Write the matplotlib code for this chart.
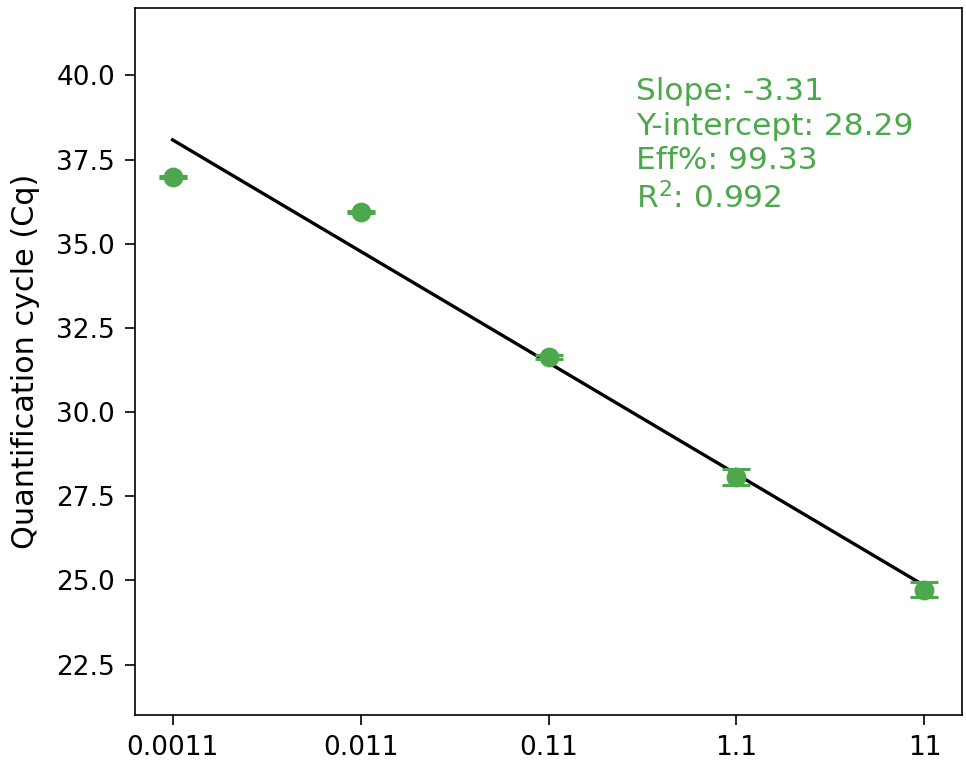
import matplotlib
matplotlib.use("Agg")
import matplotlib.pyplot as plt
import numpy as np

# standard curve data
conc = [0.0011, 0.011, 0.11, 1.1, 11]
tick_labels = ["0.0011", "0.011", "0.11", "1.1", "11"]
cq_mean = [36.97, 35.95, 31.63, 28.07, 24.72]
cq_err = [0.03, 0.03, 0.05, 0.24, 0.22]

slope = -3.31
intercept = 28.29
eff = 99.33
r2 = 0.992

green = "#4DA84D"

fig, ax = plt.subplots(figsize=(9.66 / 1.5, 7.63 / 1.5), dpi=150)
fig.subplots_adjust(left=0.1398, right=0.9959, top=0.9895, bottom=0.0629)

xs = np.array([conc[0], conc[-1]])
ax.plot(xs, slope * np.log10(xs) + intercept, color="black", lw=1.6, zorder=2)

ax.errorbar(conc, cq_mean, yerr=cq_err, fmt="o", color=green, ms=8.5,
            capsize=6.5, elinewidth=1.2, capthick=1.5, zorder=3)

ax.set_xscale("log")
ax.set_xticks(conc)
ax.set_xticklabels(tick_labels)
ax.minorticks_off()
ax.set_ylim(21, 42)
ax.set_yticks(np.arange(22.5, 40.1, 2.5))
ax.tick_params(labelsize=12.7, length=4.6, pad=5)
ax.set_ylabel("Quantification cycle (Cq)", fontsize=14.5, labelpad=8)

ax.text(0.606, 0.902,
        f"Slope: {slope:.2f}\nY-intercept: {intercept:.2f}\nEff%: {eff:.2f}\nR$^2$: {r2:.3f}",
        transform=ax.transAxes, color=green, fontsize=15, va="top", ha="left",
        linespacing=1.24)

fig.savefig("out.png")
